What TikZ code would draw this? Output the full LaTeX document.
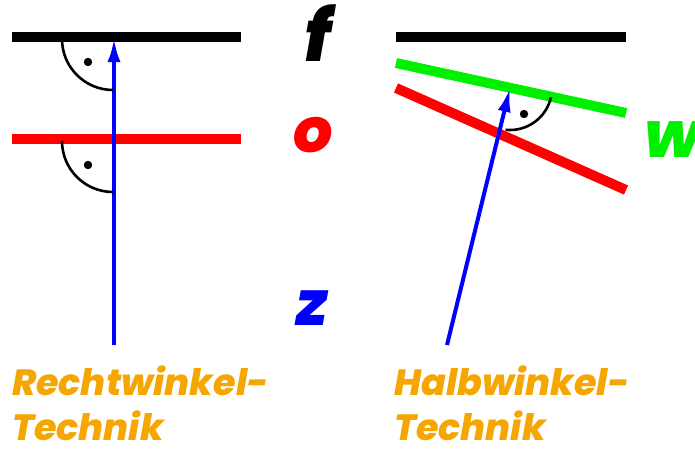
\documentclass[tikz,border=0pt]{standalone}
\usepackage{fontspec}
\setmainfont{Poppins}
\newfontfamily\heavyfont{Poppins ExtraBold Italic}
\newfontfamily\capfont{Poppins ExtraBold Italic}
\usetikzlibrary{arrows.meta,calc}
\definecolor{myorange}{RGB}{245,166,0}
\definecolor{mygreen}{RGB}{0,240,0}
\tikzset{
  bar/.style={line width=10pt},
  ray/.style={blue,line width=4pt,-{Latex[length=24pt,width=13pt]}},
  rmark/.style={line width=2.6pt},
  dotmark/.style={fill=black,radius=4.2pt},
  letter/.style={font=\fontsize{62}{66}\heavyfont,anchor=base,inner sep=0pt},
  caption/.style={font=\fontsize{36.5}{40}\capfont,text=myorange,anchor=base west,inner sep=0pt,text depth=0pt,align=left}
}
\begin{document}
\begin{tikzpicture}[x=1pt,y=1pt]
\useasboundingbox (0,0) rectangle (695,-452);
% left
\coordinate (fa) at (12,-37); \coordinate (fb) at (241,-37);
\coordinate (oa) at (12,-139); \coordinate (ob) at (241,-139);
\coordinate (zs) at (114,-345); \coordinate (zt) at (114,-38);
\draw[bar,black] (fa) -- (fb);
\draw[bar,red] (oa) -- (ob);
\draw[ray] (zs) -- (zt);
\draw[rmark] (62,-39) arc[start angle=180,end angle=270,radius=51];
\draw[rmark] (62,-141) arc[start angle=180,end angle=270,radius=51];
\fill[dotmark] (88,-62) circle;
\fill[dotmark] (88,-165) circle;
% right
\coordinate (Fa) at (396,-37); \coordinate (Fb) at (626,-37);
\coordinate (Wa) at (396,-63); \coordinate (Wb) at (626,-113);
\coordinate (Oa) at (396,-88); \coordinate (Ob) at (626,-190);
\coordinate (Zs) at (447,-345); \coordinate (Zt) at (510,-88);
\draw[bar,black] (Fa) -- (Fb);
\draw[bar,mygreen] (Wa) -- (Wb);
\draw[bar,red] (Oa) -- (Ob);
\draw[ray] (Zs) -- (Zt);
\draw[rmark] ($(Zt)+(-96:42)$) arc[start angle=-96,end angle=-13,radius=42];
\fill[dotmark] (524,-114) circle;
% letters
\node[letter,text=black,font=\fontsize{72}{76}\heavyfont] (lf) at (318,-62) {f};
\node[letter,text=red] (lo) at (313,-152) {o};
\node[letter,text=blue] (lz) at (312,-325) {z};
\node[letter,text=mygreen,anchor=base west,font=\fontsize{64}{68}\heavyfont] (lw) at (644,-157) {w};
% captions
\node[caption] (c1a) at (12,-395) {Rechtwinkel-};
\node[caption] (c1b) at (12,-440) {Technik};
\node[caption] (c2a) at (394,-395) {Halbwinkel-};
\node[caption] (c2b) at (394,-440) {Technik};
\end{tikzpicture}
\end{document}
